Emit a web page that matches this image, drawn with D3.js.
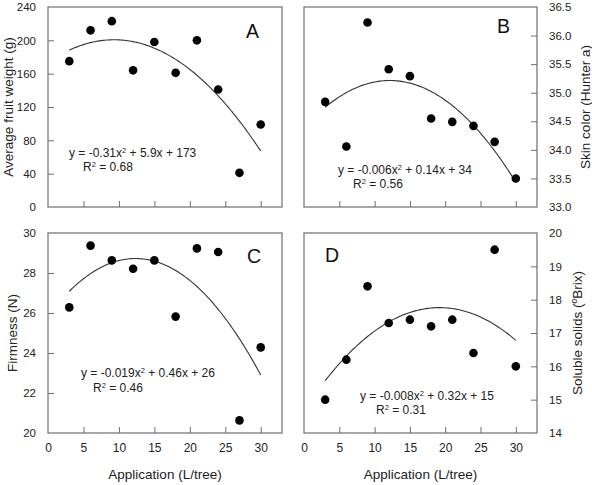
<!DOCTYPE html>
<html>
<head>
<meta charset="utf-8">
<script src="https://cdn.jsdelivr.net/npm/d3@7"></script>
<style>
  body { margin: 0; background: #fff; }
  svg { font-family: "Liberation Sans", Arial, sans-serif; }
</style>
</head>
<body>
<script>
// données
const application = [3, 6, 9, 12, 15, 18, 21, 24, 27, 30];
const fruitWeight = [175, 212, 223, 164, 198, 161, 200, 141, 41, 99];
const skinColor = [34.84, 34.06, 36.23, 35.41, 35.29, 34.55, 34.49, 34.42, 34.14, 33.50];
const firmness = [26.28, 29.37, 28.63, 28.21, 28.63, 25.82, 29.23, 29.05, 20.63, 24.28];
const solubleSolids = [15.0, 16.2, 18.4, 17.3, 17.4, 17.2, 17.4, 16.4, 19.5, 16.0];

const xTicks = [0, 5, 10, 15, 20, 25, 30];
const weightTicks = [0, 40, 80, 120, 160, 200, 240];
const colorTicks = [33.0, 33.5, 34.0, 34.5, 35.0, 35.5, 36.0, 36.5];
const firmTicks = [20, 22, 24, 26, 28, 30];
const solidsTicks = [14, 15, 16, 17, 18, 19, 20];

const panelLetters = ["A", "B", "C", "D"];
const equations = [
  ["y = -0.31x", " + 5.9x + 173", "0.68"],
  ["y = -0.006x", " + 0.14x + 34", "0.56"],
  ["y = -0.019x", " + 0.46x + 26", "0.46"],
  ["y = -0.008x", " + 0.32x + 15", "0.31"]
];

const W = 592, H = 485;
const svg = d3.select("body").append("svg")
  .attr("width", W).attr("height", H);

const frameColor = "#6e6e6e";
const textColor = "#222";

// ajustement quadratique par moindres carrés
function quadFit(xs, ys) {
  let S = [0, 0, 0, 0, 0], T = [0, 0, 0];
  xs.forEach((x, i) => {
    for (let k = 0; k < 5; k++) S[k] += Math.pow(x, k);
    for (let k = 0; k < 3; k++) T[k] += ys[i] * Math.pow(x, k);
  });
  const M = [[S[0], S[1], S[2], T[0]], [S[1], S[2], S[3], T[1]], [S[2], S[3], S[4], T[2]]];
  for (let c = 0; c < 3; c++) {
    for (let r = c + 1; r < 3; r++) {
      const f = M[r][c] / M[c][c];
      for (let k = c; k < 4; k++) M[r][k] -= f * M[c][k];
    }
  }
  const b = [0, 0, 0];
  for (let r = 2; r >= 0; r--) {
    let s = M[r][3];
    for (let k = r + 1; k < 3; k++) s -= M[r][k] * b[k];
    b[r] = s / M[r][r];
  }
  return x => b[0] + b[1] * x + b[2] * x * x;
}

const panels = [
  { values: fruitWeight, ticks: weightTicks, domain: [0, 240], fmt: d3.format("d"),
    left: 48, right: 282, top: 7, bottom: 207, side: "left", xLabels: false,
    title: "Average fruit weight (g)", titleX: 8,
    letter: [246, 38], eq: [69, 157], r2: [83, 171] },
  { values: skinColor, ticks: colorTicks, domain: [33, 36.5], fmt: d3.format(".1f"),
    left: 304, right: 537, top: 7, bottom: 207, side: "right", xLabels: false,
    title: "Skin color (Hunter a)", titleX: 585,
    letter: [497, 33], eq: [338, 174], r2: [353, 188] },
  { values: firmness, ticks: firmTicks, domain: [20, 30], fmt: d3.format("d"),
    left: 48, right: 282, top: 233, bottom: 433, side: "left", xLabels: true,
    title: "Firmness (N)", titleX: 12,
    letter: [247, 263], eq: [81, 377], r2: [93, 392] },
  { values: solubleSolids, ticks: solidsTicks, domain: [14, 20], fmt: d3.format("d"),
    left: 304, right: 537, top: 233, bottom: 433, side: "right", xLabels: true,
    title: null, titleX: 577,
    letter: [325, 262], eq: [360, 400], r2: [376, 414] }
];

panels.forEach((p, i) => {
  const x = d3.scaleLinear().domain([0, 33]).range([p.left, p.right]);
  const y = d3.scaleLinear().domain(p.domain).range([p.bottom, p.top]);
  const g = svg.append("g");

  // axe x (graduations vers l'intérieur)
  const xAxis = g.append("g")
    .attr("transform", `translate(0,${p.bottom})`)
    .call(d3.axisBottom(x).tickValues(xTicks).tickSizeInner(-6).tickSizeOuter(0).tickPadding(10));
  xAxis.select(".domain").remove();
  xAxis.selectAll("line").attr("stroke", frameColor);
  xAxis.selectAll("line").filter(d => d === 0).remove();
  xAxis.selectAll("text").attr("font-size", 12).attr("fill", textColor)
    .attr("font-family", "Liberation Sans, Arial, sans-serif");
  if (!p.xLabels) xAxis.selectAll("text").remove();

  // axe y
  const axisFn = p.side === "left" ? d3.axisLeft(y) : d3.axisRight(y);
  const yAxis = g.append("g")
    .attr("transform", `translate(${p.side === "left" ? p.left : p.right},0)`)
    .call(axisFn.tickValues(p.ticks).tickFormat(p.fmt).tickSizeInner(-6).tickSizeOuter(0).tickPadding(12));
  yAxis.select(".domain").remove();
  yAxis.selectAll("line").attr("stroke", frameColor);
  yAxis.selectAll("line").filter(d => d === p.domain[0] || d === p.domain[1]).remove();
  yAxis.selectAll("text").attr("font-size", 11.5).attr("fill", textColor)
    .attr("font-family", "Liberation Sans, Arial, sans-serif");

  // cadre
  g.append("rect")
    .attr("x", p.left).attr("y", p.top)
    .attr("width", p.right - p.left).attr("height", p.bottom - p.top)
    .attr("fill", "none").attr("stroke", frameColor).attr("stroke-width", 1.2);

  // courbe de régression
  const fit = quadFit(application, p.values);
  const curveX = d3.range(3, 30.01, 0.25);
  g.append("path")
    .datum(curveX)
    .attr("fill", "none").attr("stroke", "#333").attr("stroke-width", 1.1)
    .attr("d", d3.line().x(d => x(d)).y(d => y(fit(d))));

  // points
  g.selectAll("circle")
    .data(application.map((a, k) => [a, p.values[k]]))
    .enter().append("circle")
    .attr("cx", d => x(d[0])).attr("cy", d => y(d[1]))
    .attr("r", 4.3).attr("fill", "#000");

  // lettre du panneau
  g.append("text")
    .attr("x", p.letter[0]).attr("y", p.letter[1])
    .attr("font-size", 19.5).attr("fill", "#111")
    .text(panelLetters[i]);

  // équation
  const eq = equations[i];
  const t = g.append("text")
    .attr("x", p.eq[0]).attr("y", p.eq[1])
    .attr("font-size", 12).attr("fill", textColor);
  t.append("tspan").text(eq[0]);
  t.append("tspan").attr("font-size", 7.5).attr("dy", -4.5).text("2");
  t.append("tspan").attr("dy", 4.5).text(eq[1]);

  const r = g.append("text")
    .attr("x", p.r2[0]).attr("y", p.r2[1])
    .attr("font-size", 12).attr("fill", textColor);
  r.append("tspan").text("R");
  r.append("tspan").attr("font-size", 7.5).attr("dy", -4.5).text("2");
  r.append("tspan").attr("dy", 4.5).text(" = " + eq[2]);

  // titre de l'axe y
  const cy = (p.top + p.bottom) / 2;
  const title = g.append("text")
    .attr("transform", `translate(${p.titleX + 5},${cy}) rotate(-90)`)
    .attr("text-anchor", "middle")
    .attr("font-size", 13.5).attr("fill", textColor);
  if (p.title) {
    title.text(p.title);
  } else {
    title.append("tspan").text("Soluble solids (");
    title.append("tspan").attr("font-size", 8.5).attr("dy", -5).text("o");
    title.append("tspan").attr("dy", 5).text("Brix)");
  }

  // titre de l'axe x
  if (p.xLabels) {
    g.append("text")
      .attr("x", (p.left + p.right) / 2).attr("y", 479)
      .attr("text-anchor", "middle")
      .attr("font-size", 13.5).attr("fill", textColor)
      .text("Application (L/tree)");
  }
});
</script>
</body>
</html>
